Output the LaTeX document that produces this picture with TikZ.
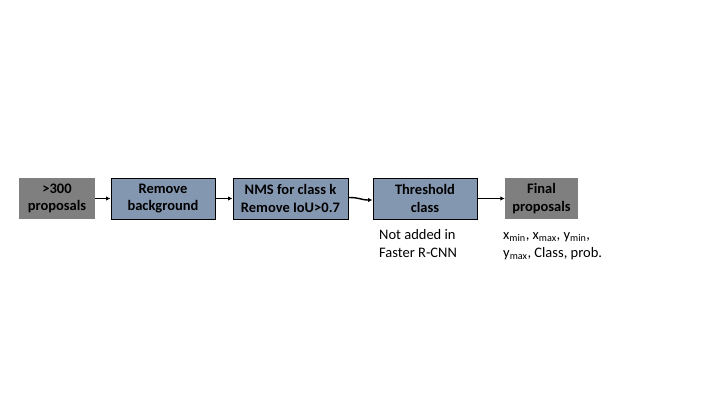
\documentclass[tikz,border=0pt]{standalone}
\usepackage{fontspec}
\setmainfont{Carlito}
\usetikzlibrary{arrows.meta}
\definecolor{bluegray}{HTML}{8497B0}
\definecolor{darkgray}{HTML}{7F7F7F}
\tikzset{
  graybox/.style={fill=darkgray, minimum height=41pt, inner sep=0pt, align=center, font=\bfseries\fontsize{14.5}{17.5}\selectfont},
  bluebox/.style={fill=bluegray, draw=black, line width=1pt, minimum height=41pt, inner sep=0pt, align=center, font=\bfseries\fontsize{14.5}{17.5}\selectfont},
  conn/.style={-{Latex[length=4.5pt,width=4.5pt]}, line width=1.4pt},
  note/.style={align=left, inner sep=0pt, anchor=north west, font=\fontsize{14.5}{18}\selectfont}
}
\begin{document}
\begin{tikzpicture}[x=1pt,y=1pt]
\useasboundingbox (0,0) rectangle (720,405);
\node[graybox, minimum width=76pt] (p) at (57,206.5) {>300\\proposals};
\node[bluebox, minimum width=104pt] (rb) at (163,206.5) {Remove\\background};
\node[bluebox, minimum width=115pt] (nms) at (290.5,206.5) {NMS for class k\\Remove IoU>0.7};
\node[bluebox, minimum width=104pt] (th) at (425,206.5) {Threshold\\class};
\node[graybox, minimum width=73pt] (fp) at (541.5,206.5) {Final\\proposals};
\draw[conn] (p.east) -- (rb.west);
\draw[conn] (rb.east) -- (nms.west);
\draw[conn] ([yshift=1pt]nms.east) .. controls ++(12,0) and ++(-12,0) .. ([yshift=-1.5pt]th.west);
\draw[conn] (th.east) -- (fp.west);
\node[note] (n1) at (379,178) {\strut Not added in\\Faster R-CNN};
\node[note] (n2) at (503,178) {\strut x\textsubscript{min}, x\textsubscript{max}, y\textsubscript{min},\\y\textsubscript{max}, Class, prob.};
\end{tikzpicture}
\end{document}
